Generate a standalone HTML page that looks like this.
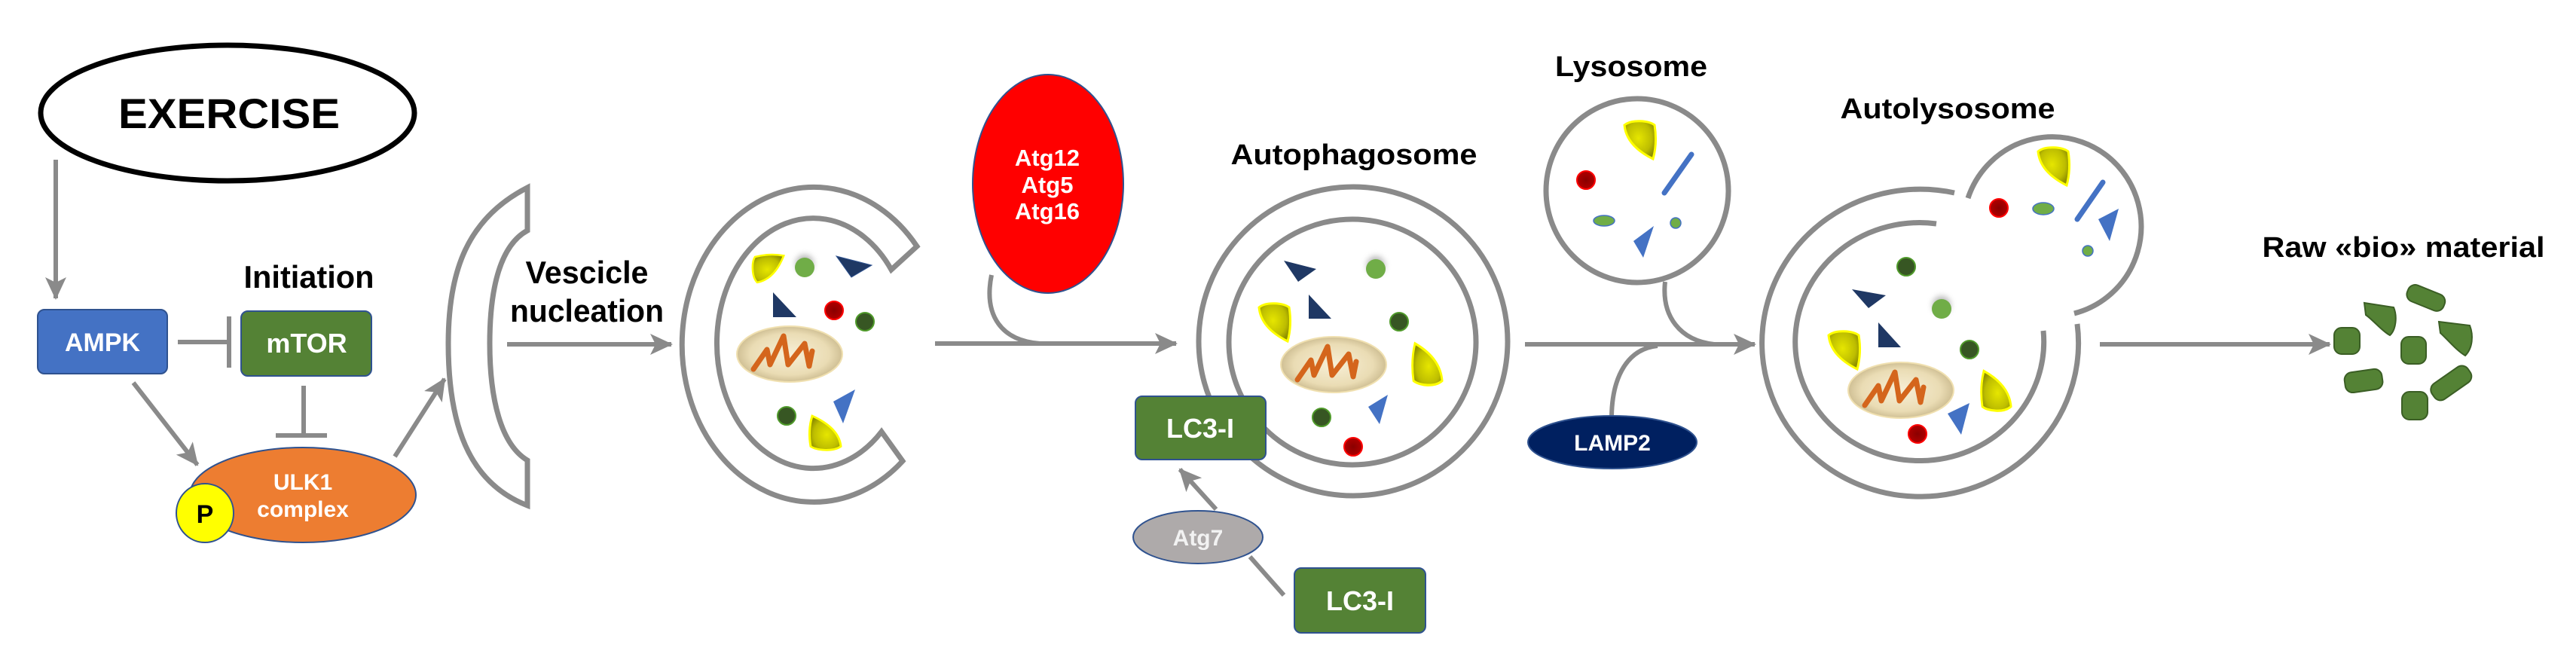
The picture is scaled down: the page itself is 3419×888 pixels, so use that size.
<!DOCTYPE html>
<html><head><meta charset="utf-8"><style>
html,body{margin:0;padding:0;background:#fff;}
svg{display:block;}
text{font-family:"Liberation Sans",Arial,sans-serif;}
.lbl{font-weight:bold;}
</style></head><body>
<svg width="3419" height="888" viewBox="0 0 3419 888" xmlns="http://www.w3.org/2000/svg">
<defs>
<marker id="ah" markerUnits="userSpaceOnUse" markerWidth="30" markerHeight="28" refX="28" refY="14" orient="auto">
<path d="M0,0 L30,14 L0,28 L7,14 Z" fill="#8a8a8a"/>
</marker>
<radialGradient id="mito" cx="50%" cy="50%" r="50%">
<stop offset="0" stop-color="#f7efd6"/><stop offset="0.75" stop-color="#eadcb4"/><stop offset="1" stop-color="#cfbf94"/>
</radialGradient>
<radialGradient id="yel" cx="45%" cy="45%" r="60%">
<stop offset="0" stop-color="#e6e600"/><stop offset="0.7" stop-color="#bdbd00"/><stop offset="1" stop-color="#8f8f00"/>
</radialGradient>
<radialGradient id="red" cx="50%" cy="50%" r="50%"><stop offset="0" stop-color="#8a0000"/><stop offset="1" stop-color="#b00000"/></radialGradient>
<filter id="sh" x="-50%" y="-50%" width="200%" height="200%"><feGaussianBlur stdDeviation="4"/></filter>
<g id="mt">
<ellipse cx="0" cy="0" rx="70" ry="37" fill="url(#mito)" stroke="#f0e0b0" stroke-width="2"/>
<path d="M-48,20 L-30,-6 L-26,14 L-8,-24 L-2,14 L20,-14 L26,16 L30,-4" fill="none" stroke="#d4651c" stroke-width="7" stroke-linejoin="round" stroke-linecap="round"/>
</g>
<path id="yd" d="M2,6 C12,-2 34,0 42,6 C45,24 43,40 40,51 C22,42 4,28 2,6 Z" fill="url(#yel)" stroke="#ffff00" stroke-width="3"/>
</defs>

<!-- EXERCISE -->
<ellipse cx="302" cy="150" rx="248" ry="90" fill="#fff" stroke="#000" stroke-width="7"/>
<text x="304" y="170" font-size="56" font-weight="bold" text-anchor="middle" textLength="294" lengthAdjust="spacingAndGlyphs">EXERCISE</text>

<g stroke="#8a8a8a" stroke-width="6" fill="none">
<line x1="74" y1="212" x2="74" y2="396" marker-end="url(#ah)"/>
<line x1="177" y1="508" x2="262" y2="617" marker-end="url(#ah)"/>
<line x1="524" y1="606" x2="590" y2="503" marker-end="url(#ah)"/>
<line x1="673" y1="457" x2="891" y2="457" marker-end="url(#ah)"/>
<line x1="1241" y1="456" x2="1561" y2="456" marker-end="url(#ah)"/>
<line x1="1614" y1="676" x2="1566" y2="623" marker-end="url(#ah)"/>
<line x1="2024" y1="457" x2="2329" y2="457" marker-end="url(#ah)"/>
<line x1="2787" y1="457" x2="3092" y2="457" marker-end="url(#ah)"/>
<line x1="236" y1="454" x2="302" y2="454"/>
<line x1="304" y1="420" x2="304" y2="488"/>
<line x1="403" y1="512" x2="403" y2="576"/>
<line x1="366" y1="578" x2="434" y2="578"/>
<line x1="1659" y1="739" x2="1704" y2="790"/>
<path d="M1316,365 C1305,420 1330,452 1380,456"/>
<path d="M2210,374 C2205,420 2230,452 2275,457"/>
<path d="M2139,552 C2140,500 2160,463 2200,459"/>
</g>

<!-- AMPK / mTOR -->
<rect x="50" y="411" width="172" height="85" rx="9" fill="#4472C4" stroke="#2F528F" stroke-width="2"/>
<text x="136" y="466" font-size="34" font-weight="bold" fill="#fff" text-anchor="middle">AMPK</text>
<rect x="320" y="413" width="173" height="86" rx="9" fill="#548235" stroke="#2F528F" stroke-width="2"/>
<text x="407" y="468" font-size="36" font-weight="bold" fill="#fff" text-anchor="middle">mTOR</text>
<text class="lbl" x="410" y="382" font-size="42" text-anchor="middle" textLength="173" lengthAdjust="spacingAndGlyphs">Initiation</text>

<!-- ULK1 -->
<ellipse cx="402" cy="657" rx="150" ry="63" fill="#ED7D31" stroke="#2F528F" stroke-width="2"/>
<text x="402" y="650" font-size="30" font-weight="bold" fill="#fff" text-anchor="middle">ULK1</text>
<text x="402" y="686" font-size="30" font-weight="bold" fill="#fff" text-anchor="middle">complex</text>
<ellipse cx="272" cy="681" rx="38" ry="39" fill="#FFFF00" stroke="#2F528F" stroke-width="2"/>
<text x="272" y="694" font-size="34" font-weight="bold" text-anchor="middle">P</text>

<!-- phagophore -->
<path d="M700,249 C620,290 595,360 595,456 C595,560 620,640 700,671 L700,611 C665,590 650,530 650,456 C650,380 665,325 700,306 Z" fill="none" stroke="#8a8a8a" stroke-width="7" stroke-linejoin="miter"/>
<text class="lbl" x="779" y="376" font-size="42" text-anchor="middle" textLength="163" lengthAdjust="spacingAndGlyphs">Vescicle</text>
<text class="lbl" x="779" y="427" font-size="42" text-anchor="middle" textLength="204" lengthAdjust="spacingAndGlyphs">nucleation</text>

<!-- vesicle 1 -->
<path d="M1217,327 A175,209 0 1 0 1198,612 L1170,573 A128,166 0 1 1 1183,358 Z" fill="none" stroke="#8a8a8a" stroke-width="7"/>
<use href="#yd" transform="translate(1000,377) rotate(-95) scale(0.85)"/>
<circle cx="1068" cy="350" r="12" fill="#888" filter="url(#sh)" opacity="0.6"/>
<circle cx="1068" cy="355" r="13" fill="#70AD47"/>
<polygon points="1110,340 1157,352 1130,368" fill="#1F3864" stroke="#2F528F" stroke-width="1"/>
<polygon points="1026,388 1026,421 1057,421" fill="#1F3864"/>
<circle cx="1107" cy="412" r="12" fill="url(#red)" stroke="#ff0000" stroke-width="2"/>
<circle cx="1148" cy="427" r="12" fill="#375623" stroke="#4f9a2a" stroke-width="2"/>
<use href="#mt" transform="translate(1048,470)"/>
<polygon points="1106,533 1135,517 1119,562" fill="#4472C4"/>
<circle cx="1044" cy="552" r="12" fill="#375623" stroke="#4f9a2a" stroke-width="2"/>
<use href="#yd" transform="translate(1118,598) rotate(180) scale(1,0.9)"/>

<!-- Atg12 -->
<ellipse cx="1391" cy="244" rx="100" ry="145" fill="#FF0000" stroke="#2F528F" stroke-width="2"/>
<text x="1390" y="220" font-size="31" font-weight="bold" fill="#fff" text-anchor="middle">Atg12</text>
<text x="1390" y="256" font-size="31" font-weight="bold" fill="#fff" text-anchor="middle">Atg5</text>
<text x="1390" y="291" font-size="31" font-weight="bold" fill="#fff" text-anchor="middle">Atg16</text>

<!-- Autophagosome -->
<text class="lbl" x="1797" y="218" font-size="38" text-anchor="middle" textLength="327" lengthAdjust="spacingAndGlyphs">Autophagosome</text>
<circle cx="1796" cy="453" r="205" fill="none" stroke="#8a8a8a" stroke-width="7"/>
<ellipse cx="1795" cy="454" rx="164" ry="163" fill="none" stroke="#8a8a8a" stroke-width="7"/>
<polygon points="1704,346 1747,357 1723,374" fill="#1F3864"/>
<circle cx="1826" cy="352" r="12" fill="#888" filter="url(#sh)" opacity="0.6"/>
<circle cx="1826" cy="357" r="13" fill="#70AD47"/>
<use href="#yd" transform="translate(1669,402)"/>
<polygon points="1737,391 1737,423 1767,423" fill="#1F3864"/>
<circle cx="1857" cy="427" r="12" fill="#375623" stroke="#4f9a2a" stroke-width="2"/>
<use href="#mt" transform="translate(1770,484)"/>
<use href="#yd" transform="translate(1916,512) rotate(180) scale(0.95,1.1)"/>
<polygon points="1816,540 1842,524 1831,563" fill="#4472C4"/>
<circle cx="1754" cy="554" r="12" fill="#375623" stroke="#4f9a2a" stroke-width="2"/>
<circle cx="1796" cy="593" r="12" fill="url(#red)" stroke="#ff0000" stroke-width="2"/>

<!-- LC3 / Atg7 -->
<rect x="1507" y="526" width="173" height="84" rx="9" fill="#548235" stroke="#2F528F" stroke-width="2"/>
<text x="1593" y="581" font-size="36" font-weight="bold" fill="#fff" text-anchor="middle">LC3-I</text>
<ellipse cx="1590" cy="713" rx="86" ry="35" fill="#AEAAAA" stroke="#2F528F" stroke-width="2"/>
<text x="1590" y="724" font-size="30" font-weight="bold" fill="#f2f2f2" text-anchor="middle">Atg7</text>
<rect x="1718" y="754" width="174" height="86" rx="9" fill="#548235" stroke="#2F528F" stroke-width="2"/>
<text x="1805" y="810" font-size="36" font-weight="bold" fill="#fff" text-anchor="middle">LC3-I</text>

<!-- Lysosome -->
<text class="lbl" x="2165" y="101" font-size="38" text-anchor="middle" textLength="202" lengthAdjust="spacingAndGlyphs">Lysosome</text>
<ellipse cx="2173" cy="253" rx="121" ry="122" fill="#fff" stroke="#8a8a8a" stroke-width="7"/>
<use href="#yd" transform="translate(2154,160) scale(1,1)"/>
<circle cx="2105" cy="239" r="12" fill="url(#red)" stroke="#ff0000" stroke-width="2"/>
<line x1="2245" y1="205" x2="2209" y2="256" stroke="#4472C4" stroke-width="7" stroke-linecap="round"/>
<ellipse cx="2129" cy="293" rx="14" ry="7" fill="#70AD47" stroke="#4472C4" stroke-width="1.5"/>
<circle cx="2224" cy="296" r="7" fill="#70AD47" stroke="#4472C4" stroke-width="1.5"/>
<polygon points="2168,320 2195,300 2181,342" fill="#4472C4"/>

<ellipse cx="2140" cy="587" rx="112" ry="35" fill="#002060" stroke="#2F528F" stroke-width="2"/>
<text x="2140" y="598" font-size="30" font-weight="bold" fill="#fff" text-anchor="middle">LAMP2</text>

<!-- Autolysosome -->
<text class="lbl" x="2585" y="157" font-size="38" text-anchor="middle" textLength="285" lengthAdjust="spacingAndGlyphs">Autolysosome</text>
<g fill="none" stroke="#8a8a8a" stroke-width="7">
<path d="M2594,256 A210,204 0 1 0 2757,430"/>
<path d="M2570,297 A165,158 0 1 0 2712,439"/>
<path d="M2612,263 A118,119 0 1 1 2753,416"/>
</g>
<use href="#yd" transform="translate(2703,195)"/>
<circle cx="2653" cy="276" r="12" fill="url(#red)" stroke="#ff0000" stroke-width="2"/>
<ellipse cx="2712" cy="277" rx="14" ry="8" fill="#70AD47" stroke="#4472C4" stroke-width="1.5"/>
<line x1="2791" y1="242" x2="2757" y2="291" stroke="#4472C4" stroke-width="7" stroke-linecap="round"/>
<polygon points="2785,291 2812,277 2800,320" fill="#4472C4"/>
<circle cx="2771" cy="333" r="7" fill="#70AD47" stroke="#4472C4" stroke-width="1.5"/>
<circle cx="2530" cy="354" r="12" fill="#375623" stroke="#4f9a2a" stroke-width="2"/>
<polygon points="2458,384 2503,392 2480,409" fill="#1F3864"/>
<circle cx="2577" cy="405" r="12" fill="#888" filter="url(#sh)" opacity="0.6"/>
<circle cx="2577" cy="410" r="13" fill="#70AD47"/>
<use href="#yd" transform="translate(2425,439)"/>
<polygon points="2493,428 2493,461 2523,461" fill="#1F3864"/>
<circle cx="2614" cy="464" r="12" fill="#375623" stroke="#4f9a2a" stroke-width="2"/>
<use href="#mt" transform="translate(2523,518)"/>
<use href="#yd" transform="translate(2671,546) rotate(180) scale(0.95,1.05)"/>
<polygon points="2585,549 2614,535 2603,577" fill="#4472C4"/>
<circle cx="2545" cy="576" r="12" fill="url(#red)" stroke="#ff0000" stroke-width="2"/>

<!-- Raw bio material -->
<text class="lbl" x="3190" y="341" font-size="38" text-anchor="middle" textLength="375" lengthAdjust="spacingAndGlyphs">Raw «bio» material</text>
<g fill="#548235" stroke="#3b5e25" stroke-width="2">
<rect x="-26" y="-11" width="52" height="23" rx="10" transform="translate(3220,395) rotate(22)"/>
<path d="M3138,402 L3177,408 C3182,420 3180,438 3172,445 C3162,440 3150,425 3140,418 Z"/>
<rect x="3098" y="435" width="34" height="35" rx="10"/>
<rect x="3187" y="447" width="33" height="36" rx="10"/>
<path d="M3237,427 L3278,432 C3283,445 3282,462 3272,472 C3260,465 3248,450 3239,442 Z"/>
<rect x="-25" y="-13" width="50" height="27" rx="10" transform="translate(3137,505) rotate(-8)"/>
<rect x="-29" y="-12" width="58" height="25" rx="10" transform="translate(3253,508) rotate(-35)"/>
<rect x="3188" y="520" width="34" height="37" rx="10"/>
</g>
</svg>
</body></html>
